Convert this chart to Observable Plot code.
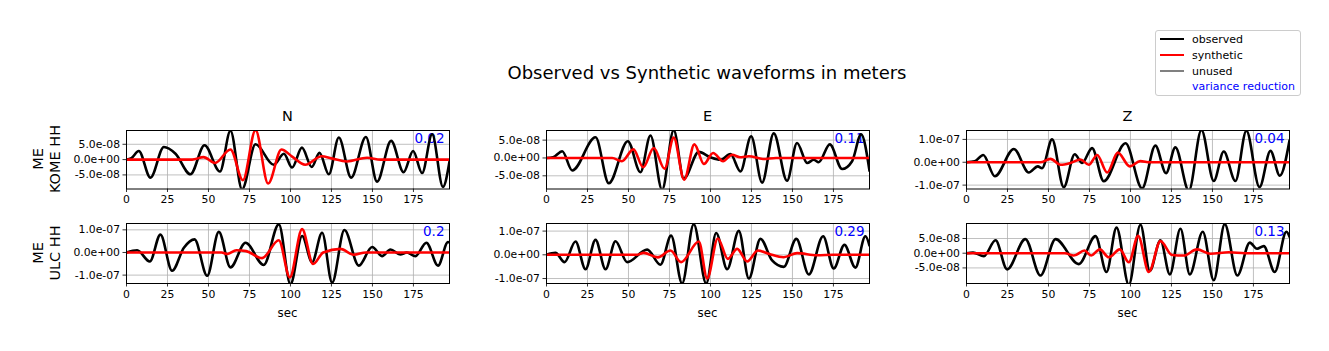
<!DOCTYPE html>
<html><head><meta charset="utf-8">
<script src="https://cdn.jsdelivr.net/npm/d3@7"></script>
<script src="https://cdn.jsdelivr.net/npm/@observablehq/plot@0.6"></script>
<style>
body{margin:0;background:#fff;}
#fig{position:relative;width:1329px;height:351px;font-family:"DejaVu Sans",sans-serif;overflow:hidden;background:#fff;}
.abs{position:absolute;white-space:nowrap;}
.ctr{transform:translate(-50%,-50%);}
#fig svg{position:absolute;}
</style></head><body><div id="fig"></div>
<script>
// amplitudes in units of 1e-8 m, time in sec: [time, amplitude]
const UNIT = 1e-8;
const columns = ["N", "E", "Z"];
const stations = [["ME", "KOME HH"], ["ME", "ULC HH"]];
const xTicks = [0, 25, 50, 75, 100, 125, 150, 175];
const xDomain = [0, 197];
const legendItems = ["observed", "synthetic", "unused", "variance reduction"];
const legendColors = ["black", "red", "gray", "white"];

const obsN1 = [[0,0],[3,0.5],[7.5,2.8],[14.6,-5.9],[22.8,4.1],[29.9,1.9],[39,-4.8],[47.6,4.7],[57,-3.9],[63.4,9.4],[70.5,-9.7],[78.7,5],[89.8,-1.7],[96,1.9],[101,-2.6],[107,3.9],[113,-2.4],[117.7,2.2],[123.4,-4.8],[129.5,7.2],[137,-5.9],[146,7.4],[152.8,-7.2],[161.4,6.1],[169,-4.1],[174.8,2.8],[180.3,-4.4],[186.4,8.3],[193,-8.9],[197,-0.6]];
const synN1 = [[0,0],[40,0],[47,0.8],[54,-1.1],[63.4,3.3],[71,-6.7],[78.7,9.6],[86.4,-7.8],[94.5,3.3],[101,1.0],[109,-1.7],[119,1.1],[125,0.4],[134.5,-0.6],[146.7,0.6],[155,0],[197,0]];
const obsE1 = [[0,0],[4,0.2],[9.6,1.9],[15.7,-3.5],[29.9,5.8],[38,-7.1],[49.6,4.7],[57.3,-4.0],[63.4,6.3],[70.5,-8.9],[77.6,7.8],[83.7,-5.8],[92.9,1.7],[100,0.2],[106.1,-0.5],[112.2,1.1],[118.3,-3.8],[124.8,6.1],[131.5,-6.9],[138.6,6.9],[146.7,-6.4],[152.8,4.2],[159,-1.4],[163,-0.5],[166,-1.2],[172.8,3.8],[180.3,-3.1],[186.4,-0.9],[191.9,6.6],[197,-3.6]];
const synE1 = [[0,0],[40,0],[46,-0.9],[53,2.4],[59,-2.6],[65.4,2.8],[72,-3.0],[77.6,5.7],[84,-6.1],[90.2,3.8],[96,-1.7],[101.6,1.4],[107.7,-0.9],[113.2,0.9],[118,0.2],[123.4,0.5],[132,-0.3],[140,0],[197,0]];
const obsZ1 = [[0,0],[5,0.4],[10.2,3.2],[17.3,-6.1],[28.9,5.8],[38,-4.5],[43.5,-1.8],[46.1,-2.6],[52.2,10],[59.3,-10.9],[66,3.5],[70.5,-0.3],[76.6,6.2],[83.7,-8.3],[97,8.3],[107.1,-11.4],[115.2,7.3],[121.7,-4.8],[127.4,6.5],[135.6,-12.4],[143.3,14.1],[150.8,-8.2],[156.9,4.7],[164,-8.2],[170.7,13.8],[178.7,-10.9],[185.4,5.0],[191.1,-5.9],[197,9.5]];
const synZ1 = [[0,0],[45,0],[51.2,1.5],[57.3,-1.1],[63.4,-0.3],[69.5,1.2],[74.6,-1.1],[79.7,3.2],[85.8,-4.5],[92.3,4.2],[99.6,-1.8],[106,0.5],[112,0],[197,0]];
const obsN2 = [[0,0],[6.5,1.0],[14.2,-4.0],[20.7,7.9],[27.8,-8.1],[35,2.1],[41.5,5.8],[49.2,-10.3],[56.3,9.1],[63.4,-6.6],[72.6,4.3],[83.7,-5.5],[92.9,12.4],[100,-14],[107.1,7.3],[113.2,-4.3],[119.3,8.7],[125.4,-13.3],[132.9,9.9],[141.7,-5.8],[149.8,2.4],[155.9,-1.6],[161,1.3],[167,-0.9],[171,0],[176.2,-1.6],[182.9,4.3],[190,-5.8],[196.1,4.6],[197,4.4]];
const synN2 = [[0,0],[58,0],[61.4,-0.7],[67,1.0],[73,0.6],[82.7,-2.5],[92.9,5.4],[99.6,-11],[107.1,10.3],[113.8,-5.1],[120,0],[130.5,1.6],[138.6,-1.0],[146,0],[197,0]];
const obsE2 = [[0,0],[5.5,0.8],[11,-3.1],[17.7,5.6],[23.8,-6.1],[29.9,6.3],[36,-6.1],[42.1,5.7],[49.2,-3.1],[61.4,2.2],[69.5,-4.2],[76,8.1],[82.7,-12.1],[89.8,12.9],[97.4,-12.1],[103.5,9.2],[110.2,-6.1],[117.3,10.1],[123.4,-10],[130.5,6.7],[137.6,-2.4],[144.7,-5.1],[152.4,6.7],[160,-8.3],[168.7,7.8],[175.2,-5.8],[181.7,4.2],[188.4,-5.4],[194.5,7.8],[197,3.9]];
const synE2 = [[0,0],[55,0],[59.3,0.8],[67.9,-1.1],[75.6,1.8],[82.1,-3.1],[92.9,5.6],[98,-10],[104.5,6.9],[110.6,-1.7],[116.3,2.5],[122.4,-2.8],[128.9,1.8],[136,0.3],[144.7,-1.0],[152.8,0.7],[165,-0.2],[175,0],[197,0]];
const obsZ2 = [[0,0],[4,0.2],[10.6,-1.0],[17.7,4.4],[24.8,-5.5],[35.9,4.8],[45.1,-7.6],[54.3,4.8],[68.5,-3.7],[78.7,5.8],[85.4,-6.4],[91.5,8.7],[99,-10.7],[106.1,9.7],[111.8,-6.0],[118.3,4.4],[124,-7.2],[130.5,8.3],[136.2,-7.2],[144.1,7.3],[150.8,-9.2],[157.5,9.9],[165.2,-7.6],[172.8,3.6],[177.2,1.5],[181.3,2.4],[188,-6.4],[195.1,7.3],[197,5.6]];
const synZ2 = [[0,0],[60,0],[65.4,-0.8],[72,0.9],[76,-0.8],[81.3,1.3],[86.8,-1.4],[93.5,1.3],[99,-3.1],[104.7,5.9],[111.2,-6.4],[118.3,4.1],[125.4,-0.6],[132.5,-0.8],[140.6,1.3],[148.8,-0.2],[160,0.3],[170,0],[197,0]];

const varianceReduction = [["0.02", "0.11", "0.04"], ["0.2", "0.29", "0.13"]];
const yDomains = [[[-9.6e-8, 9.5e-8], [-8.7e-8, 7.7e-8], [-11.7e-8, 13.9e-8]],
                  [[-13.7e-8, 12.8e-8], [-12.1e-8, 13.2e-8], [-10.3e-8, 10.1e-8]]];
const yTickSets = [[[-5e-8, 0, 5e-8], [-5e-8, 0, 5e-8], [-1e-7, 0, 1e-7]],
                   [[-1e-7, 0, 1e-7], [-1e-7, 0, 1e-7], [-5e-8, 0, 5e-8]]];
const observed = [[obsN1, obsE1, obsZ1], [obsN2, obsE2, obsZ2]];
const synthetic = [[synN1, synE1, synZ1], [synN2, synE2, synZ2]];

function sci(v) {
  if (v === 0) return "0.0e+00";
  const [m, e] = v.toExponential(1).split("e");
  const n = +e;
  return m + "e" + (n < 0 ? "-" : "+") + String(Math.abs(n)).padStart(2, "0");
}

const fig = document.getElementById("fig");
function addText(txt, x, y, size, extra) {
  const d = document.createElement("div");
  d.className = "abs ctr";
  d.textContent = txt;
  d.style.left = x + "px"; d.style.top = y + "px"; d.style.fontSize = size + "px";
  if (extra) Object.assign(d.style, extra);
  fig.appendChild(d);
  return d;
}

const colLeft = [126, 546, 966];
const rowTop = [129.5, 223];
const rowH = [58.5, 60];
const W = 323;
const mL = 90, mR = 20, mT = 20, mB = 30;

for (let r = 0; r < 2; r++) {
  for (let c = 0; c < 3; c++) {
    const h = rowH[r];
    const yt = yTickSets[r][c];
    const svg = Plot.plot({
      width: W + mL + mR, height: h + mT + mB,
      marginLeft: mL, marginRight: mR, marginTop: mT, marginBottom: mB,
      style: {background: "transparent", overflow: "visible", fontFamily: "DejaVu Sans", fontSize: "10.8px", color: "black"},
      x: {domain: xDomain},
      y: {domain: yDomains[r][c]},
      marks: [
        Plot.gridX(xTicks, {stroke: "#b0b0b0", strokeOpacity: 1, strokeWidth: 0.8}),
        Plot.gridY(yt, {stroke: "#b0b0b0", strokeOpacity: 1, strokeWidth: 0.8}),
        Plot.text([varianceReduction[r][c]], {text: d => d, frameAnchor: "top-right", dx: -5, dy: 3, fill: "blue", fontSize: 13.5}),
        Plot.line(observed[r][c], {x: d => d[0], y: d => d[1] * UNIT, curve: "monotone-x", stroke: "black", strokeWidth: 2.6, clip: true}),
        Plot.line(synthetic[r][c], {x: d => d[0], y: d => d[1] * UNIT, curve: "monotone-x", stroke: "red", strokeWidth: 2.6, clip: true}),
        Plot.frame({stroke: "black", strokeWidth: 1}),
        Plot.axisX(xTicks, {tickSize: 3.5, tickPadding: 3, label: null, tickFormat: d => String(d), strokeWidth: 0.8}),
        Plot.axisY(yt, {tickSize: 3.5, tickPadding: 3, label: null, tickFormat: sci, strokeWidth: 0.8})
      ]
    });
    svg.style.left = (colLeft[c] - mL) + "px";
    svg.style.top = (rowTop[r] - mT) + "px";
    fig.appendChild(svg);
    if (r === 1) addText("sec", colLeft[c] + W / 2, 313, 11.8);
  }
}

// title & column titles
addText("Observed vs Synthetic waveforms in meters", 707, 72, 18);
columns.forEach((t, c) => addText(t, colLeft[c] + W / 2, 116, 14.5));

// row labels
stations.forEach((lines, r) => {
  const d = document.createElement("div");
  d.className = "abs";
  d.style.left = "46px";
  d.style.top = (rowTop[r] + rowH[r] / 2) + "px";
  d.style.fontSize = "14.5px";
  d.style.lineHeight = "16.5px";
  d.style.textAlign = "center";
  d.style.transform = "translate(-50%,-50%) rotate(-90deg)";
  d.innerHTML = lines.join("<br>");
  fig.appendChild(d);
});

// legend
const lg = document.createElement("div");
lg.className = "abs";
Object.assign(lg.style, {left: "1155px", top: "30px", width: "144px", height: "64px", border: "1px solid #cccccc", borderRadius: "3px", background: "rgba(255,255,255,0.8)"});
fig.appendChild(lg);
const rowsY = [8.3, 24, 39.5, 55.2];
legendItems.forEach((t, i) => {
  const ln = document.createElement("div");
  ln.className = "abs";
  Object.assign(ln.style, {left: "4px", top: (rowsY[i] - 1) + "px", width: "24px", height: "2px", background: legendColors[i]});
  lg.appendChild(ln);
  const tx = document.createElement("div");
  tx.className = "abs";
  tx.textContent = t;
  Object.assign(tx.style, {left: "36px", top: rowsY[i] + "px", transform: "translateY(-50%)", fontSize: "11px", color: i === 3 ? "blue" : "black"});
  lg.appendChild(tx);
});
</script></body></html>
